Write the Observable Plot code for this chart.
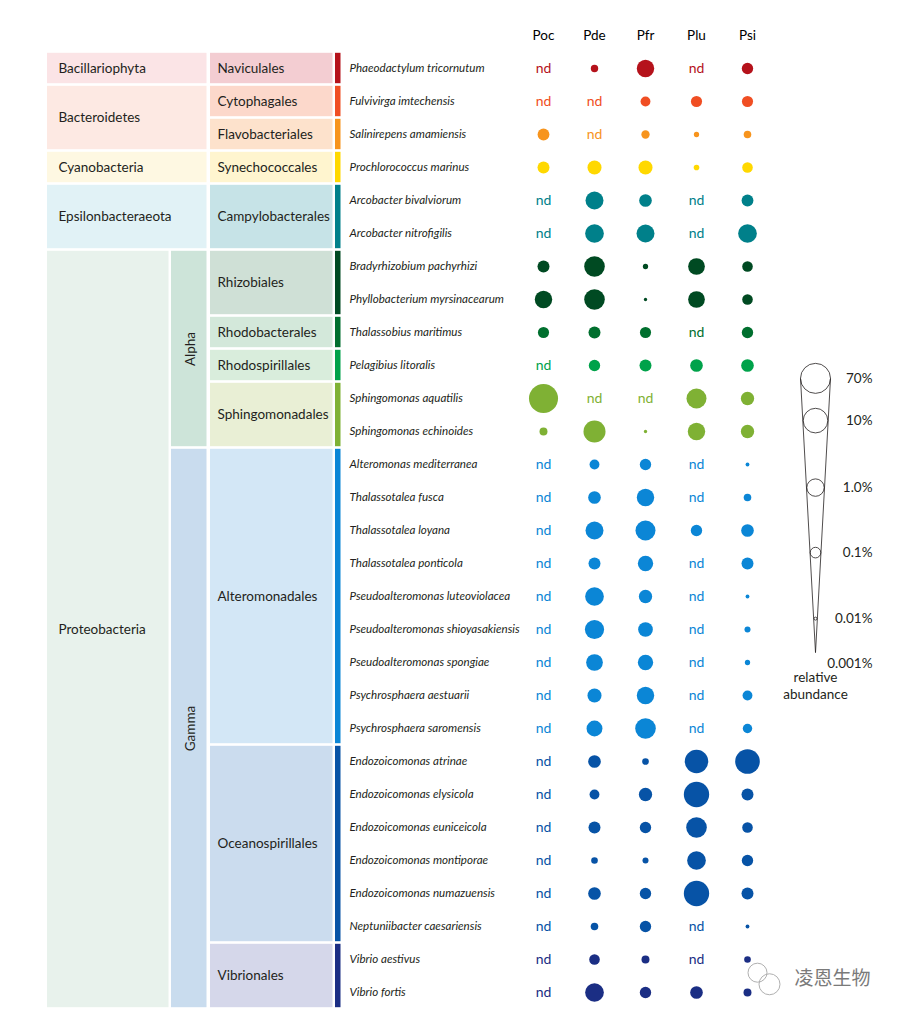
<!DOCTYPE html>
<html><head><meta charset="utf-8">
<script src="https://cdn.jsdelivr.net/npm/d3@7"></script>
<script src="https://cdn.jsdelivr.net/npm/@observablehq/plot@0.6"></script>
<style>body{margin:0;background:#fff;} #chart svg{display:block}</style>
</head><body><div id="chart"></div><script>
// ---------- data ----------
const species = [
  "Phaeodactylum tricornutum","Fulvivirga imtechensis","Salinirepens amamiensis","Prochlorococcus marinus",
  "Arcobacter bivalviorum","Arcobacter nitrofigilis","Bradyrhizobium pachyrhizi","Phyllobacterium myrsinacearum",
  "Thalassobius maritimus","Pelagibius litoralis","Sphingomonas aquatilis","Sphingomonas echinoides",
  "Alteromonas mediterranea","Thalassotalea fusca","Thalassotalea loyana","Thalassotalea ponticola",
  "Pseudoalteromonas luteoviolacea","Pseudoalteromonas shioyasakiensis","Pseudoalteromonas spongiae",
  "Psychrosphaera aestuarii","Psychrosphaera saromensis",
  "Endozoicomonas atrinae","Endozoicomonas elysicola","Endozoicomonas euniceicola","Endozoicomonas montiporae",
  "Endozoicomonas numazuensis","Neptuniibacter caesariensis","Vibrio aestivus","Vibrio fortis"
];
const speciesOrder = [
  "Naviculales","Cytophagales","Flavobacteriales","Synechococcales","Campylobacterales","Campylobacterales",
  "Rhizobiales","Rhizobiales","Rhodobacterales","Rhodospirillales","Sphingomonadales","Sphingomonadales",
  "Alteromonadales","Alteromonadales","Alteromonadales","Alteromonadales","Alteromonadales","Alteromonadales",
  "Alteromonadales","Alteromonadales","Alteromonadales",
  "Oceanospirillales","Oceanospirillales","Oceanospirillales","Oceanospirillales","Oceanospirillales","Oceanospirillales",
  "Vibrionales","Vibrionales"
];
const orders = ["Naviculales","Cytophagales","Flavobacteriales","Synechococcales","Campylobacterales",
  "Rhizobiales","Rhodobacterales","Rhodospirillales","Sphingomonadales","Alteromonadales","Oceanospirillales","Vibrionales"];
const orderPhylum = ["Bacillariophyta","Bacteroidetes","Bacteroidetes","Cyanobacteria","Epsilonbacteraeota",
  "Proteobacteria","Proteobacteria","Proteobacteria","Proteobacteria","Proteobacteria","Proteobacteria","Proteobacteria"];
const orderClass = [null,null,null,null,null,"Alpha","Alpha","Alpha","Alpha","Gamma","Gamma","Gamma"];
const samples = ["Poc","Pde","Pfr","Plu","Psi"];
// relative abundance in %, null = not detected ("nd")
const Poc = [null,null,0.15,0.16,null,null,0.16,1,0.12,null,50,0.045,
  null,null,null,null,null,null,null,null,null, null,null,null,null,null,null, null,null];
const Pde = [0.038,null,null,0.32,1.2,1.5,2.8,2.8,0.16,0.13,null,4.4,
  0.08,0.2,1.2,0.16,1.5,1.8,0.8,0.32,0.6, 0.2,0.08,0.16,0.03,0.2,0.04, 0.1,1.5];
const Pfr = [1,0.08,0.05,0.32,0.2,1.2,0.02,0.011,0.12,0.16,null,0.011,
  0.13,1,2.3,0.5,0.25,0.4,0.5,1,2.8, 0.03,0.25,0.13,0.025,0.13,0.13, 0.045,0.13];
const Plu = [null,0.12,0.02,0.022,null,null,0.8,0.8,null,0.2,2.3,1,
  null,null,0.13,null,null,null,null,null,null, 7,13,2.8,1.5,13,null, null,0.2];
const Psi = [0.13,0.12,0.04,0.1,0.15,1.5,0.1,0.1,0.13,0.2,0.25,0.25,
  0.013,0.04,0.2,0.16,0.013,0.025,0.02,0.08,0.07, 10,0.16,0.1,0.13,0.16,0.013, 0.03,0.045];
const sampleValues = [Poc, Pde, Pfr, Plu, Psi];
const legendLevels = [70, 10, 1, 0.1, 0.01, 0.001];
const legendLabels = ["70%", "10%", "1.0%", "0.1%", "0.01%", "0.001%"];

// ---------- styles ----------
const orderColor = {
  Naviculales:"#b5121b", Cytophagales:"#f04e23", Flavobacteriales:"#f7941d", Synechococcales:"#ffd800",
  Campylobacterales:"#00808a", Rhizobiales:"#004a22", Rhodobacterales:"#006f2e", Rhodospirillales:"#00a24a",
  Sphingomonadales:"#7fb134", Alteromonadales:"#0b86d6", Oceanospirillales:"#0753a6", Vibrionales:"#1b2e84"
};
const orderFill = {
  Naviculales:"#f3cdd2", Cytophagales:"#fcd8cb", Flavobacteriales:"#fde2cc", Synechococcales:"#fff5cf",
  Campylobacterales:"#c6e3e7", Rhizobiales:"#cfe0d6", Rhodobacterales:"#d3e8da", Rhodospirillales:"#d9eddc",
  Sphingomonadales:"#e9efd5", Alteromonadales:"#d3e7f6", Oceanospirillales:"#cbdcee", Vibrionales:"#d5d7ea"
};
const phylumFill = {
  Bacillariophyta:"#fbe4e6", Bacteroidetes:"#fde9e3", Cyanobacteria:"#fef8e2",
  Epsilonbacteraeota:"#e1f2f6", Proteobacteria:"#e8f2ec"
};
const classFill = {Alpha:"#cde4d9", Gamma:"#c9dcee"};
const layout = {
  phylumX1: 47, phylumX2: 206.5, protX2: 168.5, classX1: 171, classX2: 206.5,
  orderX1: 210, orderX2: 332.5, barX1: 335, barX2: 340.5, speciesX: 349,
  phylumLabelX: 58, orderLabelX: 217, classLabelX: 190,
  sampleX0: 543, sampleStep: 51, headerRow: -1,
  legendX: 815, legendLabelX: 872, legendConeR: 15,
  legendRows: [9.39, 10.67, 12.7, 14.67, 16.67, 18.05], legendApex: 17.7,
  legendTitleRows: [18.45, 18.98], watermarkX: 832, watermarkRow: 27.6,
  iconX: [757, 769], iconRows: [27.4, 27.75], iconR: [9.5, 10.5]
};
const ink = "#231f20";

// ---------- derived tables ----------
const speciesPhylum = speciesOrder.map(o => orderPhylum[orders.indexOf(o)]);
const speciesClass = speciesOrder.map(o => orderClass[orders.indexOf(o)]);
function runs(keys) {
  const out = [];
  keys.forEach((k, i) => {
    const last = out[out.length - 1];
    if (last && last.key === k) last.end = i;
    else out.push({key: k, start: i, end: i});
  });
  return out.filter(d => d.key != null);
}
const phylumGroups = runs(speciesPhylum);
const classGroups = runs(speciesClass);
const orderGroups = runs(speciesOrder);
const rows = species.map((s, i) => ({i, species: s, order: speciesOrder[i]}));
const cells = samples.flatMap((s, j) => sampleValues[j].map((v, i) => ({sample: s, j, i, v, order: speciesOrder[i]})));
const sx = j => layout.sampleX0 + j * layout.sampleStep;
const mid = d => (d.start + d.end) / 2;

const chart = Plot.plot({
  width: 904, height: 1020, margin: 0,
  x: {domain: [0, 904], range: [0, 904], axis: null},
  y: {domain: [-0.5, 28.5], range: [51.5, 1008.5], axis: null},
  r: {type: "linear", domain: [-3, -2, -1, 0, 1, Math.log10(70)], range: [0, 1.5, 5.3, 8.7, 12.3, 15]},
  color: {type: "identity"},
  style: {fontFamily: "Lato, 'Open Sans', sans-serif", background: "#fff"},
  marks: [
    // taxonomy boxes
    Plot.rect(phylumGroups, {
      x1: () => layout.phylumX1,
      x2: d => d.key === "Proteobacteria" ? layout.protX2 : layout.phylumX2,
      y1: d => d.start - 0.5, y2: d => d.end + 0.5,
      fill: d => phylumFill[d.key], insetTop: 1.3, insetBottom: 1.3
    }),
    Plot.rect(classGroups, {
      x1: () => layout.classX1, x2: () => layout.classX2,
      y1: d => d.start - 0.5, y2: d => d.end + 0.5,
      fill: d => classFill[d.key], insetTop: 1.3, insetBottom: 1.3
    }),
    Plot.rect(orderGroups, {
      x1: () => layout.orderX1, x2: () => layout.orderX2,
      y1: d => d.start - 0.5, y2: d => d.end + 0.5,
      fill: d => orderFill[d.key], insetTop: 1.3, insetBottom: 1.3
    }),
    Plot.rect(orderGroups, {
      x1: () => layout.barX1, x2: () => layout.barX2,
      y1: d => d.start - 0.5, y2: d => d.end + 0.5,
      fill: d => orderColor[d.key], insetTop: 1.3, insetBottom: 1.3
    }),
    // taxonomy labels
    Plot.text(phylumGroups, {
      x: () => layout.phylumLabelX, y: mid, text: "key",
      textAnchor: "start", fontSize: 13.5, fill: ink
    }),
    Plot.text(classGroups, {
      x: () => layout.classLabelX, y: mid, text: "key",
      rotate: -90, fontSize: 13.5, fill: ink
    }),
    Plot.text(orderGroups, {
      x: () => layout.orderLabelX, y: mid, text: "key",
      textAnchor: "start", fontSize: 13.5, fill: ink
    }),
    Plot.text(rows, {
      x: () => layout.speciesX, y: "i", text: "species",
      textAnchor: "start", fontSize: 11.6, fontStyle: "italic", fill: ink
    }),
    // column headers
    Plot.text(samples, {
      x: (d, j) => sx(j), y: () => layout.headerRow, text: d => d,
      fontSize: 13.5, fill: "#000"
    }),
    // abundance dots and nd
    Plot.dot(cells.filter(d => d.v != null), {
      x: d => sx(d.j), y: "i", r: d => Math.log10(d.v),
      fill: d => orderColor[d.order], stroke: null
    }),
    Plot.text(cells.filter(d => d.v == null), {
      x: d => sx(d.j), y: "i", text: () => "nd",
      fill: d => orderColor[d.order], fontSize: 14
    }),
    // size legend
    Plot.link([-1, 1], {
      x1: s => layout.legendX + s * layout.legendConeR, y1: () => layout.legendRows[0],
      x2: () => layout.legendX, y2: () => layout.legendApex,
      stroke: ink, strokeWidth: 0.8
    }),
    Plot.dot(legendLevels, {
      x: () => layout.legendX, y: (d, i) => layout.legendRows[i], r: d => Math.log10(d),
      stroke: ink, strokeWidth: 0.8, fill: "none"
    }),
    Plot.text(legendLabels, {
      x: () => layout.legendLabelX, y: (d, i) => layout.legendRows[i], text: d => d,
      textAnchor: "end", fontSize: 13.5, fill: ink
    }),
    Plot.text(["relative", "abundance"], {
      x: () => layout.legendX, y: (d, i) => layout.legendTitleRows[i], text: d => d,
      fontSize: 13.5, fill: ink
    }),
    // watermark
    Plot.dot([0, 1], {
      x: i => layout.iconX[i], y: i => layout.iconRows[i],
      r: i => Math.log10(1), stroke: "#b0b0b0", strokeWidth: 1, fill: "none",
      render: (index, scales, values, dims, context, next) => {
        const g = next(index, scales, values, dims, context);
        d3.select(g).selectAll("circle").attr("r", (d, k) => layout.iconR[index[k]]);
        return g;
      }
    }),
    Plot.text(["凌恩生物"], {
      x: () => layout.watermarkX, y: () => layout.watermarkRow, text: d => d,
      fontSize: 19, fill: "#7a7a7a", fontFamily: "'Noto Sans CJK SC', sans-serif"
    })
  ]
});
document.getElementById("chart").appendChild(chart);
</script></body></html>
